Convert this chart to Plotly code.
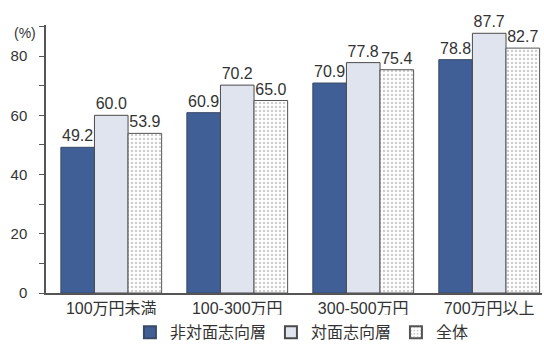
import plotly.graph_objects as go

categories = ["100万円未満", "100-300万円", "300-500万円", "700万円以上"]
non_face = [49.2, 60.9, 70.9, 78.8]
face = [60.0, 70.2, 77.8, 87.7]
total = [53.9, 65.0, 75.4, 82.7]
series_names = ["非対面志向層", "対面志向層", "全体"]

font_family = "Liberation Sans, Noto Sans CJK JP, sans-serif"
label_size = 16

fig = go.Figure()
fig.add_trace(go.Bar(
    x=categories, y=non_face, name=series_names[0],
    marker=dict(color="#3f5f96", line=dict(color="#3a4a66", width=1)),
    text=[f"{v:.1f}" for v in non_face], textposition="outside",
    textfont=dict(size=label_size, color="#333333"), cliponaxis=False,
))
fig.add_trace(go.Bar(
    x=categories, y=face, name=series_names[1],
    marker=dict(color="#dfe4ef", line=dict(color="#4a4a4a", width=1)),
    text=[f"{v:.1f}" for v in face], textposition="outside",
    textfont=dict(size=label_size, color="#333333"), cliponaxis=False,
))
fig.add_trace(go.Bar(
    x=categories, y=total, name=series_names[2],
    marker=dict(color="#ffffff", line=dict(color="#555555", width=1),
                pattern=dict(shape=".", fgcolor="#9a9a9a", bgcolor="#ffffff", size=4, solidity=0.3)),
    text=[f"{v:.1f}" for v in total], textposition="outside",
    textfont=dict(size=label_size, color="#333333"), cliponaxis=False,
))

fig.update_layout(
    width=544, height=344,
    margin=dict(l=46, r=2, t=25, b=51, autoexpand=False),
    paper_bgcolor="white", plot_bgcolor="white",
    barmode="group", bargap=0.2, bargroupgap=0.0,
    font=dict(family=font_family, size=15, color="#333333"),
    showlegend=True,
    legend=dict(orientation="h", xref="container", yref="container",
                x=0.555, xanchor="center", y=0.034, yanchor="middle",
                font=dict(size=16, color="#333333"), itemwidth=30,
                traceorder="normal", itemsizing="constant"),
    xaxis=dict(range=[-0.518, 3.419], showline=True, linecolor="#555555", linewidth=1.5, ticks="",
               tickfont=dict(size=16, color="#333333"), showgrid=False, automargin=False),
    yaxis=dict(range=[0, 90.5], showline=True, linecolor="#555555", linewidth=1.5,
               tickvals=[0, 20, 40, 60, 80], ticks="outside", ticklen=5, tickcolor="#555555",
               minor=dict(tickvals=[10, 30, 50, 70, 90], ticks="outside", ticklen=5, tickcolor="#555555"),
               ticklabelstandoff=9,
               showgrid=False, zeroline=False, tickfont=dict(size=15, color="#333333"), automargin=False),
    annotations=[dict(text="(%)", xref="paper", yref="paper", x=-0.042, y=0.97,
                      xanchor="center", yanchor="middle", showarrow=False,
                      font=dict(size=14, color="#333333"))],
)

fig.write_html("out.html")
